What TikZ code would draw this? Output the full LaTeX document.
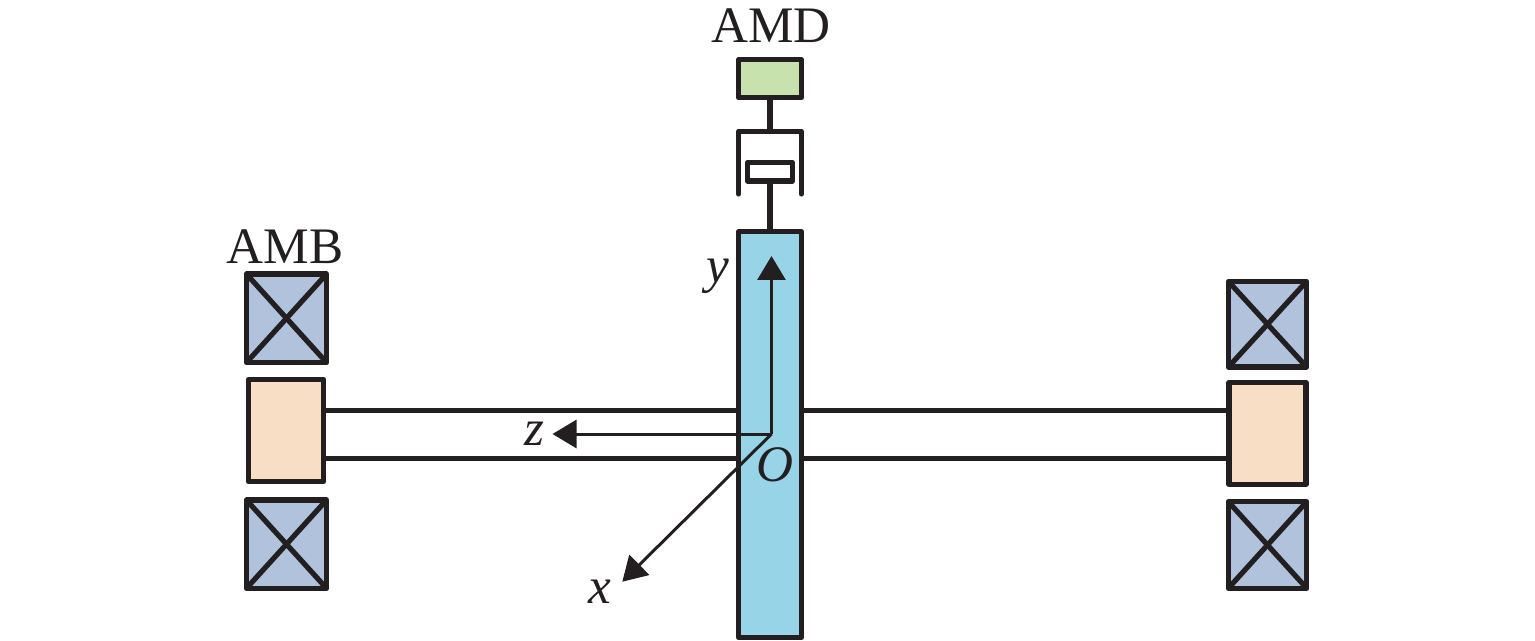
\documentclass[tikz,border=0pt]{standalone}
\usepackage{fontspec}
\setmainfont{Liberation Serif}
\usetikzlibrary{arrows.meta}
\definecolor{ink}{HTML}{231F20}
\definecolor{discblue}{HTML}{98D4E8}
\definecolor{amdgreen}{HTML}{C8E2AE}
\definecolor{rotorpeach}{HTML}{F8DEC4}
\definecolor{coilblue}{HTML}{B0C2DC}
\tikzset{
  part/.style={draw=ink,line width=2.6pt,line join=round,rectangle,inner sep=0pt,outer sep=0pt},
  coilbox/.style={part,fill=coilblue,minimum width=#1},
  link/.style={draw=ink,line width=2.6pt,line join=round},
  axis/.style={draw=ink,line width=1.5pt,-{Triangle[length=12pt,width=14pt]}},
  lab/.style={text=ink,font=\fontsize{25.6}{25.6}\selectfont,anchor=base,inner sep=0pt}
}
\begin{document}
\begin{tikzpicture}[x=0.5pt,y=-0.5pt]
\useasboundingbox (0,0) rectangle (1535,641);
\coordinate (shafttop) at (0,410.5);
\coordinate (shaftbot) at (0,458.3);
\coordinate (O) at (771.5,434);
\coordinate (ytip) at (771.5,256);
\coordinate (ztip) at (552.5,434);
\coordinate (xtip) at (622.3,581.7);
\coordinate (cupTL) at (738.7,131.3);
\coordinate (cupTR) at (801.3,131.3);
\coordinate (cupBL) at (738.7,194);
\coordinate (cupBR) at (801.3,194);
% parts
\node[part,fill=discblue,minimum width=31.5pt,minimum height=202.9pt] (disc) at (770,434.6) {};
\node[part,fill=amdgreen,minimum width=31.5pt,minimum height=19pt] (amd) at (770,78.7) {};
\node[part,fill=white,minimum width=22.3pt,minimum height=9.35pt] (piston) at (770,171.7) {};
\node[part,fill=rotorpeach,minimum width=37.7pt,minimum height=51.2pt] (rotorL) at (286,430.5) {};
\node[part,fill=rotorpeach,minimum width=38.5pt,minimum height=51pt] (rotorR) at (1267.5,433.3) {};
\node[coilbox=40.1pt,minimum height=44.3pt] (coilLT) at (286.5,318.3) {};
\node[coilbox=40.1pt,minimum height=44.2pt] (coilLB) at (286.5,544.2) {};
\node[coilbox=39.2pt,minimum height=42.9pt] (coilRT) at (1267.5,324.2) {};
\node[coilbox=39.2pt,minimum height=43.3pt] (coilRB) at (1267.5,545) {};
% coil crosses
\foreach \c in {coilLT,coilLB,coilRT,coilRB}{
  \draw[link] (\c.north west) -- (\c.south east);
  \draw[link] (\c.north east) -- (\c.south west);
}
% shaft
\draw[link] (rotorL.east |- shafttop) -- (disc.west |- shafttop);
\draw[link] (rotorL.east |- shaftbot) -- (disc.west |- shaftbot);
\draw[link] (disc.east |- shafttop) -- (rotorR.west |- shafttop);
\draw[link] (disc.east |- shaftbot) -- (rotorR.west |- shaftbot);
% damper
\draw[link] (amd.south) -- (amd.south |- cupTL);
\draw[link,line cap=round] (cupBL) -- (cupTL) -- (cupTR) -- (cupBR);
\draw[link] (piston.south) -- (disc.north);
% axes
\draw[axis] (O) -- (ytip);
\draw[axis] (O) -- (ztip);
\draw[axis] (O) -- (xtip);
% labels
\node[lab] (amdlabel) at (771,42.7) {AMD};
\node[lab] (amblabel) at (285,263.5) {AMB};
\node[lab] (ylabel) at (717.5,283) {\itshape y};
\node[lab] (zlabel) at (534.5,445) {\itshape z};
\node[lab] (olabel) at (775,481) {\itshape O};
\node[lab] (xlabel) at (600,603) {\itshape x};
\end{tikzpicture}
\end{document}
